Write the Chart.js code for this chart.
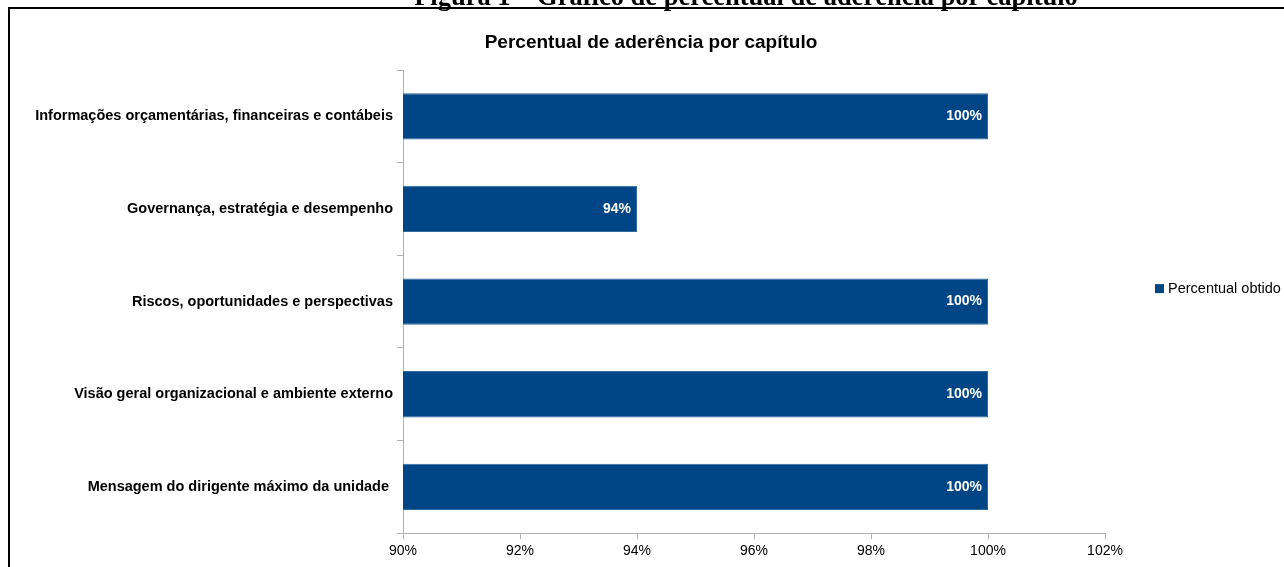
<!DOCTYPE html>
<html>
<head>
<meta charset="utf-8">
<script src="https://cdn.jsdelivr.net/npm/chart.js@4"></script>
<style>
  body { margin: 0; width: 1284px; height: 567px; overflow: hidden; background: #fff; position: relative; }
  #caption { position: absolute; left: 0; top: -17px; width: 1492px; text-align: center;
             font: bold 26.5px "Liberation Serif", "Times New Roman", serif; line-height: 26px; color: #000; z-index: 2; }
  #frame { position: absolute; left: 8px; top: 7px; width: 1300px; height: 600px; border: 2px solid #000; }
  #wrap { position: absolute; left: 0px; top: 1px; width: 1276px; height: 560px; }
</style>
</head>
<body>
<div id="caption">Figura 1 – Gráfico de percentual de aderência por capítulo</div>
<div id="frame">
  <div id="wrap"><canvas id="aderenciaChart"></canvas></div>
</div>
<script>
// chapter names, top to bottom
const capitulos = [
    'Informações orçamentárias, financeiras e contábeis',
    'Governança, estratégia e desempenho',
    'Riscos, oportunidades e perspectivas',
    'Visão geral organizacional e ambiente externo',
    'Mensagem do dirigente máximo da unidade '
];
const percentualObtido = [100, 94, 100, 100, 100];
const eixoX = [90, 92, 94, 96, 98, 100, 102];

const titulo = 'Percentual de aderência por capítulo';
const azul = '#004586';
const cinzaEixo = '#b3b3b3';
const fonte = '"Liberation Sans", Arial, sans-serif';

// white value labels at the end of each bar
const rotulosBarras = {
    id: 'rotulosBarras',
    afterDatasetsDraw(chart) {
        const c = chart.ctx;
        const meta = chart.getDatasetMeta(0);
        c.save();
        c.font = 'bold 14px ' + fonte;
        c.fillStyle = '#ffffff';
        c.textAlign = 'right';
        c.textBaseline = 'middle';
        meta.data.forEach((bar, i) => {
            c.fillText(percentualObtido[i] + '%', bar.x - 6, bar.y);
        });
        c.restore();
    }
};

// title over the whole frame and the legend to the right of the plot
const tituloLegenda = {
    id: 'tituloLegenda',
    afterDraw(chart) {
        const c = chart.ctx;
        const area = chart.chartArea;
        const ds = chart.data.datasets[0];
        c.save();
        c.fillStyle = '#000';
        c.textBaseline = 'middle';
        c.textAlign = 'center';
        c.font = 'bold 19px ' + fonte;
        c.fillText(titulo, chart.width / 2 + 3, 33);

        const lx = area.right + 50;
        const ly = (area.top + area.bottom) / 2 - 13;
        c.fillStyle = ds.backgroundColor;
        c.fillRect(lx, ly - 4.5, 9, 9);
        c.fillStyle = '#000';
        c.textAlign = 'left';
        c.font = '14.5px ' + fonte;
        c.fillText(ds.label, lx + 13, ly);
        c.restore();
    }
};

const ctx = document.getElementById('aderenciaChart').getContext('2d');
const aderenciaChart = new Chart(ctx, {
    type: 'bar',
    data: {
        labels: capitulos,
        datasets: [{
            label: 'Percentual obtido',
            data: percentualObtido,
            backgroundColor: azul,
            borderColor: '#2f6aa3',
            borderWidth: 1,
            barPercentage: 0.5,
            categoryPercentage: 1
        }]
    },
    options: {
        indexAxis: 'y',
        responsive: true,
        maintainAspectRatio: false,
        animation: false,
        layout: { padding: { left: 0, right: 181, top: 60, bottom: 6 } },
        plugins: {
            legend: { display: false },
            title: { display: false },
            tooltip: { enabled: false }
        },
        scales: {
            x: {
                min: eixoX[0],
                max: eixoX[eixoX.length - 1],
                afterBuildTicks: (axis) => { axis.ticks = eixoX.map(v => ({ value: v })); },
                ticks: {
                    color: '#000',
                    padding: 4,
                    font: { family: fonte, size: 14 },
                    callback: (v) => v + '%'
                },
                grid: { drawOnChartArea: false, tickLength: 6, color: cinzaEixo },
                border: { color: cinzaEixo }
            },
            y: {
                afterFit: (axis) => { axis.width = 393; },
                ticks: {
                    color: '#000',
                    padding: 4,
                    font: { family: fonte, size: 14.5, weight: 'bold' }
                },
                grid: { drawOnChartArea: false, offset: true, tickLength: 6, color: cinzaEixo },
                border: { color: cinzaEixo }
            }
        }
    },
    plugins: [rotulosBarras, tituloLegenda]
});
</script>
</body>
</html>
